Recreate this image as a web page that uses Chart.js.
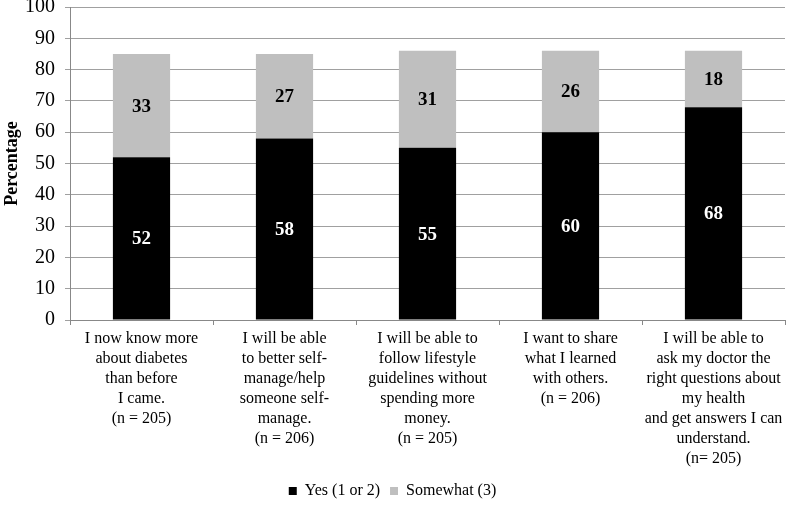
<!DOCTYPE html>
<html><head><meta charset="utf-8">
<script src="https://cdn.jsdelivr.net/npm/chart.js@4/dist/chart.umd.min.js"></script>
<style>html,body{margin:0;padding:0;background:#fff}#wrap{width:790px;height:509px}</style>
</head><body><div id="wrap"><canvas id="c" width="790" height="509"></canvas></div>
<script>
const categories = [
  ["I now know more","about diabetes","than before","I came.","(n = 205)"],
  ["I will be able","to better self-","manage/help","someone self-","manage.","(n = 206)"],
  ["I will be able to","follow lifestyle","guidelines without","spending more","money.","(n = 205)"],
  ["I want to share","what I learned","with others.","(n = 206)"],
  ["I will be able to","ask my doctor the","right questions about","my health","and get answers I can","understand.","(n= 205)"]
];
const yesValues = [52, 58, 55, 60, 68];
const somewhatValues = [33, 27, 31, 26, 18];
const seriesNames = ["Yes (1 or 2)", "Somewhat (3)"];
const yTicks = [0,10,20,30,40,50,60,70,80,90,100];

const FONT = '"Liberation Serif", "Times New Roman", serif';

const labelPlugin = {
  id: 'barLabels',
  afterDatasetsDraw(chart) {
    const ctx = chart.ctx;
    ctx.save();
    ctx.font = 'bold 19px ' + FONT;
    ctx.textAlign = 'center';
    ctx.textBaseline = 'middle';
    chart.data.datasets.forEach((ds, di) => {
      const meta = chart.getDatasetMeta(di);
      meta.data.forEach((bar, i) => {
        const v = ds.data[i];
        const y = (bar.y + bar.base) / 2;
        ctx.fillStyle = di === 0 ? '#ffffff' : '#000000';
        ctx.fillText(String(v), bar.x, y + 1);
      });
    });
    ctx.restore();
  }
};

new Chart(document.getElementById('c'), {
  type: 'bar',
  data: {
    labels: categories,
    datasets: [
      { label: seriesNames[0], data: yesValues, backgroundColor: '#000000', categoryPercentage: 1, barPercentage: 0.4 },
      { label: seriesNames[1], data: somewhatValues, backgroundColor: '#bfbfbf', categoryPercentage: 1, barPercentage: 0.4 }
    ]
  },
  options: {
    responsive: false,
    animation: false,
    layout: { padding: { left: 0, right: 5, top: 0, bottom: 0 } },
    plugins: {
      legend: {
        position: 'bottom',
        labels: { font: { family: FONT, size: 16 }, color: '#000', boxWidth: 8, boxHeight: 8, padding: 10 }
      },
      tooltip: { enabled: false }
    },
    scales: {
      x: {
        stacked: true,
        grid: { display: true, drawOnChartArea: false, drawTicks: true, tickLength: 5, color: '#888', offset: true },
        border: { color: '#888' },
        ticks: { font: { family: FONT, size: 16, lineHeight: 1.25 }, color: '#000', maxRotation: 0, autoSkip: false, padding: 4 }
      },
      y: {
        stacked: true,
        min: 0, max: 100,
        afterBuildTicks(axis) { axis.ticks = yTicks.map(v => ({ value: v })); },
        afterFit(scale) { scale.width = 70; scale.paddingTop = 7; },
        grid: { color: '#a0a0a0', tickLength: 5 },
        border: { color: '#888' },
        ticks: { font: { family: FONT, size: 20 }, color: '#000', padding: 10 },
        title: { display: true, text: 'Percentage', font: { family: FONT, size: 18, weight: 'bold' }, color: '#000', padding: 2 }
      }
    }
  },
  plugins: [labelPlugin]
});
</script></body></html>
